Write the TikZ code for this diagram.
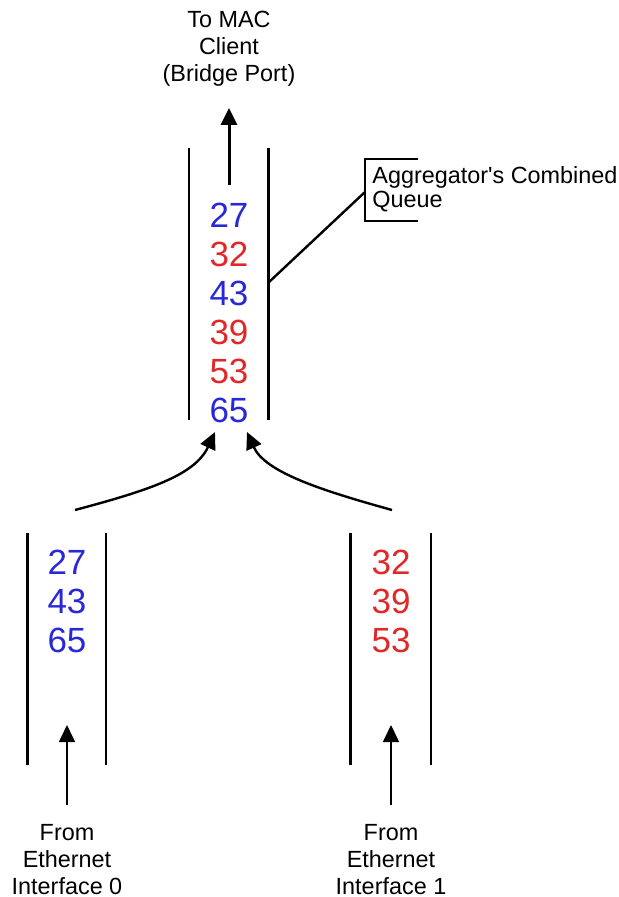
\documentclass[tikz,border=0pt]{standalone}
\usepackage{fontspec}
\setmainfont{Liberation Sans}
\usetikzlibrary{arrows.meta,positioning}
\definecolor{pktblue}{RGB}{40,40,215}
\definecolor{pktred}{RGB}{225,40,40}

\begin{document}
\begin{tikzpicture}[x=0.5pt,y=0.5pt,
    wall/.style={line width=0.8pt},
    wallthick/.style={line width=1.5pt},
    flow/.style={line width=1.2pt,-{Triangle[length=8.5pt,width=8pt]}},
    pkt/.style={font=\fontsize{17.5}{17.5}\selectfont, inner sep=0pt},
    lbl/.style={font=\fontsize{11.7}{13.5}\selectfont, align=center, inner sep=0pt}]
    \useasboundingbox (0,0) rectangle (618,-897);

    % combined queue
    \draw[wall] (189,-148) -- (189,-420);
    \draw[wallthick] (268,-148) -- (268,-420);
    \foreach \v/\c [count=\i] in {27/pktblue,32/pktred,43/pktblue,39/pktred,53/pktred,65/pktblue}
        \node[pkt, text=\c] (agg\i) at (229,{-215-39*(\i-1)}) {\v};
    \coordinate (outfoot) at (229,-185);
    \coordinate (outtip) at (229,-108);
    \draw[flow, line width=1.5pt] (outfoot) -- (outtip);
    \node[lbl] (tomac) at (229,-49) {To MAC\\Client\\(Bridge Port)};

    % callout
    \coordinate (tap) at (268,-283);
    \coordinate (brk) at (365,-192);
    \draw[line width=1.2pt] (tap) -- (brk);
    \draw[line width=1.2pt] (418,-159) -- (365,-159) -- (365,-221) -- (418,-221);
    \node[lbl, align=left, anchor=west, font=\fontsize{11.7}{12}\selectfont] (aggnote) at (372,-189) {Aggregator\textquotesingle s Combined\\Queue};

    % interface 0
    \begin{scope}[shift={(67,0)}]
        \draw[wallthick] (-40,-533) -- (-40,-765);
        \draw[wall] (39,-533) -- (39,-765);
        \foreach \v [count=\i] in {27,43,65}
            \node[pkt, text=pktblue] (ifa\i) at (0,{-562-39*(\i-1)}) {\v};
        \coordinate (infoota) at (0,-805);
        \coordinate (intipa) at (0,-725);
        \draw[flow, line width=0.8pt] (infoota) -- (intipa);
        \node[lbl] (froma) at (0,-860) {From\\Ethernet\\Interface 0};
    \end{scope}

    % interface 1
    \begin{scope}[shift={(391,0)}]
        \draw[wallthick] (-41,-533) -- (-41,-765);
        \draw[wall] (40,-533) -- (40,-765);
        \foreach \v [count=\i] in {32,39,53}
            \node[pkt, text=pktred] (ifb\i) at (0,{-562-39*(\i-1)}) {\v};
        \coordinate (infootb) at (0,-805);
        \coordinate (intipb) at (0,-725);
        \draw[flow, line width=0.8pt] (infootb) -- (intipb);
        \node[lbl] (fromb) at (0,-860) {From\\Ethernet\\Interface 1};
    \end{scope}

    % merge into combined queue
    \coordinate (mrga) at (75,-510);
    \coordinate (mrgatip) at (215,-432);
    \coordinate (mrgb) at (392,-510);
    \coordinate (mrgbtip) at (247,-432);
    \draw[flow] (mrga) .. controls (150,-490) and (195,-475) .. (mrgatip);
    \draw[flow] (mrgb) .. controls (320,-490) and (265,-472) .. (mrgbtip);
\end{tikzpicture}
\end{document}
